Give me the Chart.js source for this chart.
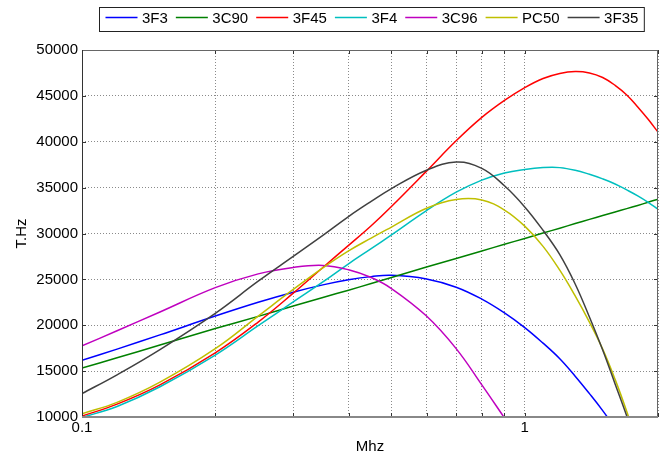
<!DOCTYPE html>
<html><head><meta charset="utf-8">
<script src="https://cdn.jsdelivr.net/npm/chart.js@4.4.1/dist/chart.umd.min.js"></script>
<style>html,body{margin:0;padding:0;background:#fff;}canvas{display:block;}</style>
</head><body>
<canvas id="c" width="666" height="457"></canvas>
<script>
// ---- data ----
const freqMHz = [0.1, 0.12, 0.15, 0.2, 0.25, 0.3, 0.35, 0.4, 0.45, 0.5, 0.6, 0.7, 0.8, 0.9, 1.0, 1.1, 1.2, 1.3, 1.4, 1.5, 1.6, 1.7, 1.8, 1.9, 2.0];
const seriesNames = ['3F3', '3C90', '3F45', '3F4', '3C96', 'PC50', '3F35'];
const s3F3  = [16180, 17400, 18950, 21000, 22500, 23600, 24400, 24950, 25300, 25450, 25050, 24150, 22850, 21350, 19750, 18050, 16350, 14450, 12550, 10700, 8800, null, null, null, null];
const s3C90 = [15340, 16450, 17850, 19640, 20970, 22100, 23030, 23820, 24550, 25200, 26340, 27280, 28100, 28820, 29460, 30050, 30580, 31080, 31540, 31960, 32350, 32710, 33060, 33400, 33740];
const s3F45 = [10100, 11400, 13500, 17000, 20350, 23500, 26300, 28700, 30850, 32950, 36800, 40100, 42650, 44500, 45900, 46900, 47450, 47650, 47500, 47000, 46150, 45100, 43800, 42450, 41050];
const s3F4  = [9950, 11150, 13300, 16750, 19950, 22550, 24720, 26700, 28350, 29850, 32500, 34500, 35820, 36600, 36980, 37180, 37180, 36900, 36450, 35950, 35400, 34750, 34100, 33400, 32650];
const s3C96 = [17750, 19400, 21450, 24100, 25600, 26300, 26520, 26050, 25200, 24000, 21000, 17450, 13500, 9900, null, null, null, null, null, null, null, null, null, null, null];
const sPC50 = [10350, 11600, 13800, 17450, 21000, 23900, 26250, 28100, 29500, 30700, 32750, 33700, 33650, 32550, 30800, 28600, 26000, 23200, 20350, 17400, 14100, 10600, 7000, null, null];
const s3F35 = [12550, 14600, 17350, 21300, 24800, 27500, 29800, 31850, 33500, 34900, 36900, 37780, 37100, 35200, 32900, 30350, 27700, 24500, 20900, 17300, 13600, 10100, 6500, null, null];
const xGridValues = [0.1, 0.2, 0.3, 0.4, 0.5, 0.6, 0.7, 0.8, 0.9, 1, 2];
const xLabelValues = [0.1, 1];
const yMin = 10000, yMax = 50000, yStep = 5000;
const xTitle = 'Mhz', yTitle = 'T.Hz';

const seriesValues = [s3F3, s3C90, s3F45, s3F4, s3C96, sPC50, s3F35];
const seriesColors = ['#0000ff', '#008000', '#ff0000', '#00bfbf', '#bf00bf', '#bfbf00', '#404040'];

const FONT = '"Liberation Sans", Arial, sans-serif';

const datasets = seriesNames.map((name, i) => ({
  label: name,
  data: freqMHz.map((f, k) => ({x: f, y: seriesValues[i][k]})).filter(p => p.y !== null),
  borderColor: seriesColors[i],
  backgroundColor: seriesColors[i],
  borderWidth: 1.5,
  pointRadius: 0,
  fill: false,
  tension: 0.4,
  order: seriesNames.length - 1 - i
}));

const decor = {
  id: 'decor',
  afterDraw(chart) {
    const {ctx, chartArea: a, scales: {x, y}} = chart;
    ctx.save();
    // inward tick marks
    ctx.strokeStyle = '#333';
    ctx.lineWidth = 1;
    ctx.beginPath();
    x.ticks.forEach(t => {
      const px = Math.round(x.getPixelForValue(t.value)) + 0.5;
      ctx.moveTo(px, a.bottom); ctx.lineTo(px, a.bottom - 4);
      ctx.moveTo(px, a.top); ctx.lineTo(px, a.top + 4);
    });
    y.ticks.forEach(t => {
      const py = Math.round(y.getPixelForValue(t.value)) + 0.5;
      ctx.moveTo(a.left, py); ctx.lineTo(a.left + 4, py);
      ctx.moveTo(a.right, py); ctx.lineTo(a.right - 4, py);
    });
    ctx.stroke();
    // frame
    ctx.lineWidth = 1;
    ctx.strokeStyle = '#666';
    ctx.beginPath();
    ctx.moveTo(a.left, a.top + 0.5); ctx.lineTo(a.right, a.top + 0.5);
    ctx.moveTo(a.right - 0.5, a.top); ctx.lineTo(a.right - 0.5, a.bottom);
    ctx.stroke();
    ctx.strokeStyle = '#333';
    ctx.beginPath();
    ctx.moveTo(a.left + 0.5, a.top); ctx.lineTo(a.left + 0.5, a.bottom);
    ctx.stroke();
    ctx.strokeStyle = '#888';
    ctx.lineWidth = 2;
    ctx.beginPath();
    ctx.moveTo(a.left, a.bottom); ctx.lineTo(a.right, a.bottom);
    ctx.stroke();

    // legend
    ctx.font = '15px ' + FONT;
    const lineLen = 32, gapText = 4.5, gapItem = 8, margin = 6;
    const ds = chart.data.datasets;
    const widths = ds.map(d => ctx.measureText(d.label).width);
    let W = margin * 2;
    widths.forEach((w, i) => { W += lineLen + gapText + w + (i < widths.length - 1 ? gapItem : 0); });
    const cx = (a.left + a.right) / 2 + 1;
    const left = Math.round(cx - W / 2) + 0.5;
    const top = 7.5, h = 24;
    ctx.fillStyle = '#fff';
    ctx.fillRect(left, top, W, h);
    ctx.strokeStyle = '#222';
    ctx.lineWidth = 1;
    ctx.strokeRect(left, top, W, h);
    let xx = left + margin;
    const ly = 17.5;
    ds.forEach((d, i) => {
      ctx.strokeStyle = d.borderColor;
      ctx.lineWidth = 1.5;
      ctx.beginPath();
      ctx.moveTo(xx, ly); ctx.lineTo(xx + lineLen, ly);
      ctx.stroke();
      xx += lineLen + gapText;
      ctx.fillStyle = '#000';
      ctx.textBaseline = 'middle';
      ctx.textAlign = 'left';
      ctx.fillText(d.label, xx, 19);
      xx += widths[i] + gapItem;
    });
    ctx.restore();
  }
};

new Chart(document.getElementById('c'), {
  type: 'line',
  data: {datasets},
  options: {
    responsive: false,
    devicePixelRatio: 1,
    animation: false,
    events: [],
    elements: {line: {capBezierPoints: false}},
    layout: {padding: {top: 50, right: 8, left: 0, bottom: 0}},
    plugins: {legend: {display: false}, tooltip: {enabled: false}, title: {display: false}},
    scales: {
      x: {
        type: 'logarithmic',
        min: 0.1, max: 2,
        afterBuildTicks: s => { s.ticks = xGridValues.map(v => ({value: v})); },
        afterFit: s => { s.height = 40; },
        ticks: {
          autoSkip: false, maxRotation: 0, padding: 2,
          color: '#000', font: {family: FONT, size: 15},
          callback: v => xLabelValues.includes(v) ? String(v) : ''
        },
        grid: {color: '#8a8a8a', lineWidth: 1, drawTicks: false},
        border: {display: false, dash: [1, 2]},
        title: {display: true, text: xTitle, color: '#000', font: {family: FONT, size: 15}, padding: {top: 0, bottom: 1}}
      },
      y: {
        min: yMin, max: yMax,
        afterFit: s => { s.width = 82; },
        ticks: {
          stepSize: yStep, padding: 4,
          color: '#000', font: {family: FONT, size: 15},
          callback: v => String(v)
        },
        grid: {color: '#8a8a8a', lineWidth: 1, drawTicks: false},
        border: {display: false, dash: [1, 2]},
        title: {display: true, text: yTitle, color: '#000', font: {family: FONT, size: 15}, padding: {top: 13, bottom: 0}}
      }
    }
  },
  plugins: [decor]
});
</script>
</body></html>
